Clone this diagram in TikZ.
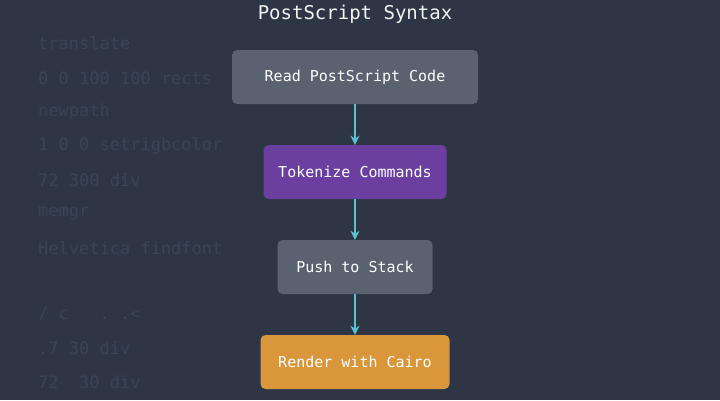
\documentclass[tikz,border=0pt]{standalone}
\usepackage{fontspec}
\setmonofont{DejaVu Sans Mono}
\usetikzlibrary{arrows.meta}
\definecolor{bg}{HTML}{2E3646}
\definecolor{ghost}{HTML}{3B4456}
\definecolor{boxgrey}{HTML}{5A6270}
\definecolor{boxpurple}{HTML}{6B3FA0}
\definecolor{boxorange}{HTML}{D9963A}
\definecolor{arr}{HTML}{5BC0D0}
\begin{document}
\begin{tikzpicture}[x=1pt,y=-1pt,
  stepbox/.style={rounded corners=5pt,minimum height=54pt,text=white,font=\ttfamily\fontsize{15}{18}\selectfont,inner xsep=12pt},
  bgtext/.style={anchor=west,text=ghost,font=\ttfamily\fontsize{17}{20}\selectfont,inner sep=0pt},
  flow/.style={arr,line width=2pt,-{Stealth[length=9pt,width=9pt]}}]
\fill[bg] (0,0) rectangle (720,400);
\useasboundingbox (0,0) rectangle (720,400);
\node[bgtext] (g1) at (38,43) {translate};
\node[bgtext] (g2) at (38,78) {0 0 100 100 rects};
\node[bgtext] (g3) at (38,112) {newpath};
\node[bgtext] (g4) at (38,146) {1 0 0 setrigbcolor};
\node[bgtext] (g5) at (38,180) {72 300 div};
\node[bgtext] (g6) at (38,214) {memgr};
\node[bgtext] (g7) at (38,248) {Helvetica findfont};
\node[bgtext] (g8) at (38,314) {/ c \ \ . .<};
\node[bgtext] (g9) at (38,348) {.7 30 div};
\node[bgtext] (g10) at (38,382) {72 \ 30 div};
\node[text=white!90!gray,font=\ttfamily\fontsize{19}{22}\selectfont] (title) at (355,14) {PostScript Syntax};
\node[stepbox,fill=boxgrey,minimum width=246pt] (read) at (355,77) {Read PostScript Code};
\node[stepbox,fill=boxpurple,minimum width=183pt] (tok) at (355,172) {Tokenize Commands};
\node[stepbox,fill=boxgrey,minimum width=155pt] (push) at (355,267) {Push to Stack};
\node[stepbox,fill=boxorange,minimum width=189pt] (render) at (355,362) {Render with Cairo};
\draw[flow] (read) -- (tok);
\draw[flow] (tok) -- (push);
\draw[flow] (push) -- (render);
\end{tikzpicture}
\end{document}
